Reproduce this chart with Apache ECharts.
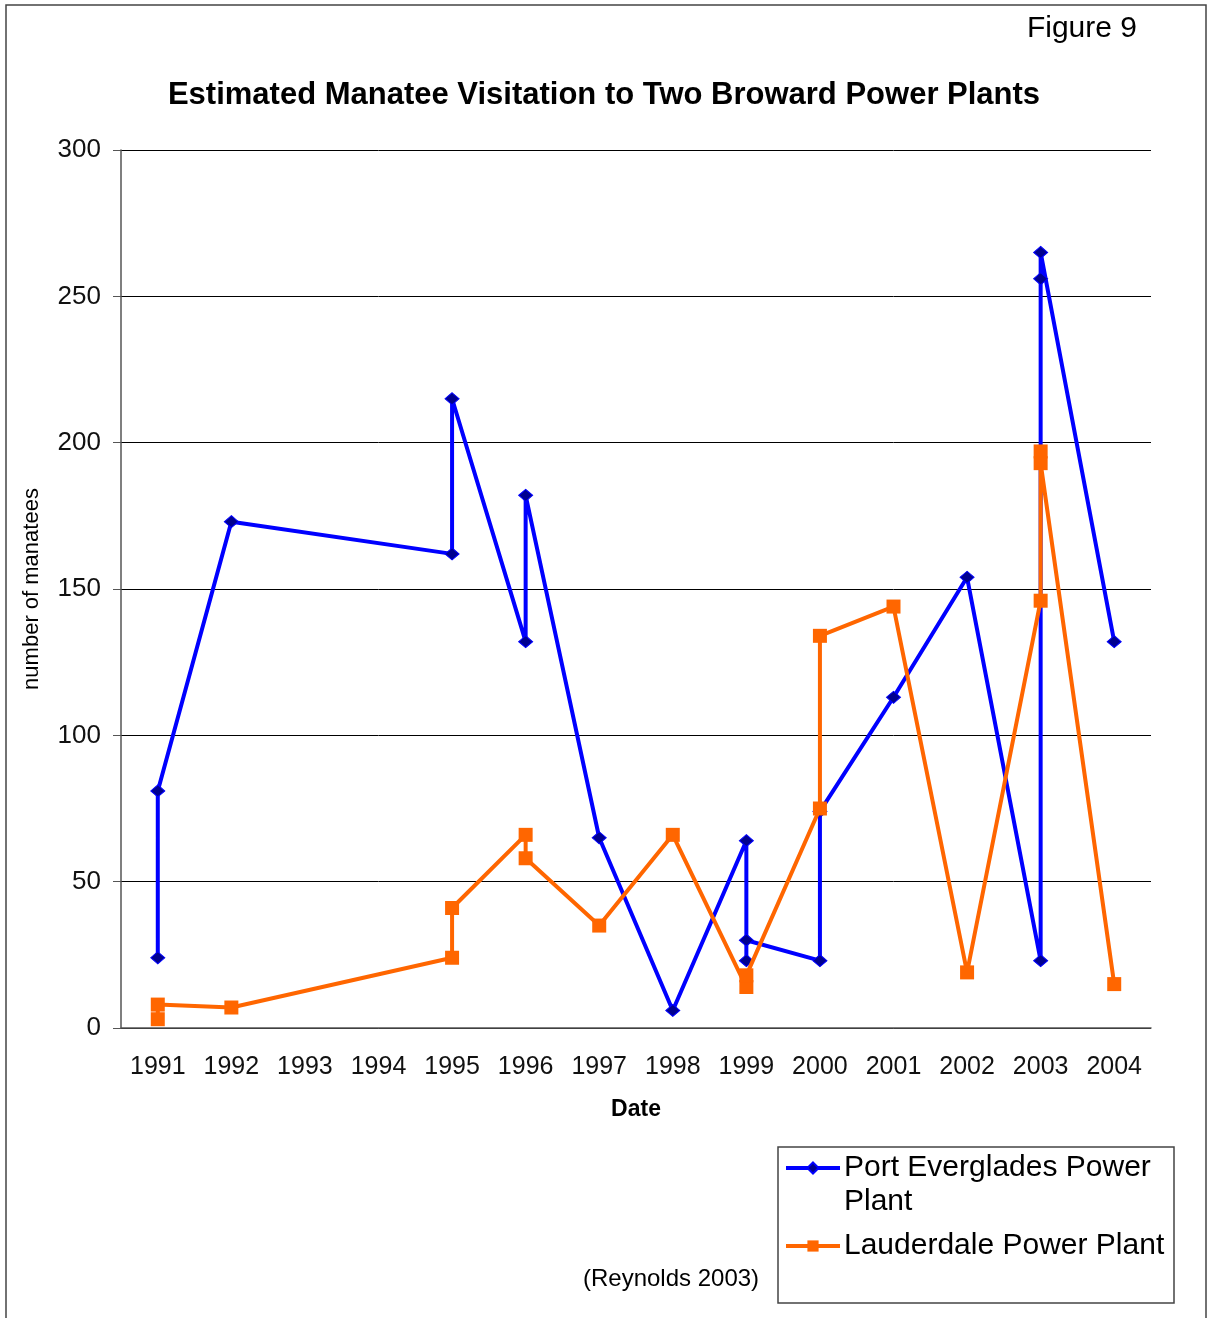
<!DOCTYPE html>
<html>
<head>
<meta charset="utf-8">
<script src="https://cdn.jsdelivr.net/npm/echarts@6/dist/echarts.min.js"></script>
<style>
  html, body { margin: 0; padding: 0; background: #fff; }
  #chart { width: 1208px; height: 1318px; }
</style>
</head>
<body>
<div id="chart"></div>
<script>
// years on the x axis
const years = ['1991', '1992', '1993', '1994', '1995', '1996', '1997',
  '1998', '1999', '2000', '2001', '2002', '2003', '2004'];
const yTicks = [0, 50, 100, 150, 200, 250, 300];

// Port Everglades: several surveys can fall in the same year
const portYears = ['1991', '1991', '1992', '1995', '1995', '1996', '1996', '1997', '1998',
  '1999', '1999', '1999', '2000', '2000', '2001', '2002', '2003', '2003', '2003', '2004'];
const portCounts = [24, 81, 173, 162, 215, 132, 182, 65, 6,
  64, 23, 30, 23, 74, 113, 154, 23, 256, 265, 132];

// Lauderdale
const laudYears = ['1991', '1991', '1992', '1995', '1995', '1996', '1996', '1997', '1998',
  '1999', '1999', '2000', '2000', '2001', '2002', '2003', '2003', '2003', '2004'];
const laudCounts = [3, 8, 7, 24, 41, 66, 58, 35, 66,
  14, 18, 75, 134, 144, 19, 146, 197, 193, 15];

const FONT = '"Liberation Sans", Arial, sans-serif';
const pair = (xs, ys) => xs.map((x, i) => [x, ys[i]]);

const chart = echarts.init(document.getElementById('chart'));
chart.setOption({
  animation: false,
  textStyle: { fontFamily: FONT },
  title: [
    {
      text: 'Estimated Manatee Visitation to Two Broward Power Plants',
      left: 'center', top: 75,
      textStyle: { fontSize: 31, fontWeight: 'bold', color: '#000', fontFamily: FONT }
    },
    {
      text: 'Figure 9',
      right: 66, top: 9,
      textStyle: { fontSize: 30, fontWeight: 'normal', color: '#000', fontFamily: FONT }
    },
    {
      text: '(Reynolds 2003)',
      left: 578, top: 1262,
      textStyle: { fontSize: 24, fontWeight: 'normal', color: '#000', fontFamily: FONT }
    }
  ],
  graphic: [
    { type: 'rect', shape: { x: 6, y: 5, width: 1200, height: 1330 },
      style: { fill: 'none', stroke: '#444', lineWidth: 1.5 }, silent: true },
    { type: 'rect', shape: { x: 778, y: 1147, width: 396, height: 156 },
      style: { fill: '#fff', stroke: '#444', lineWidth: 1.5 }, silent: true, z: 0 }
  ],
  legend: {
    orient: 'vertical',
    left: 784, top: 1117,
    padding: 0,
    itemGap: 10,
    itemWidth: 54, itemHeight: 14,
    z: 5,
    lineStyle: { width: 4 },
    textStyle: { fontSize: 30, lineHeight: 34, color: '#000', fontFamily: FONT, padding: [0, 0, 0, -1] },
    data: ['Port Everglades Power Plant', 'Lauderdale Power Plant'],
    formatter: name => name === 'Port Everglades Power Plant' ? '\nPort Everglades Power\nPlant' : name
  },
  grid: { left: 121, right: 57, top: 150, bottom: 290 },
  xAxis: {
    type: 'category',
    data: years,
    name: 'Date',
    nameLocation: 'middle',
    nameGap: 70,
    nameTextStyle: { fontSize: 23, fontWeight: 'bold', color: '#000', fontFamily: FONT },
    axisLine: { lineStyle: { color: '#555', width: 1.5 } },
    axisTick: { length: 8, lineStyle: { color: '#555' } },
    axisLabel: { fontSize: 25, color: '#111', margin: 27, fontFamily: FONT }
  },
  yAxis: {
    type: 'value',
    min: yTicks[0], max: yTicks[yTicks.length - 1], interval: 50,
    name: 'number of manatees',
    nameLocation: 'middle',
    nameRotate: 90,
    nameGap: 78,
    nameTextStyle: { fontSize: 22, color: '#000', fontFamily: FONT },
    axisLine: { show: true, lineStyle: { color: '#555', width: 1.5 } },
    axisTick: { show: true, length: 8, lineStyle: { color: '#555' } },
    axisLabel: { fontSize: 26, color: '#111', margin: 20, fontFamily: FONT },
    splitLine: { lineStyle: { color: '#000', width: 1 } }
  },
  series: [
    {
      name: 'Port Everglades Power Plant',
      type: 'line',
      data: pair(portYears, portCounts),
      symbol: 'diamond',
      symbolSize: [14, 12],
      lineStyle: { color: '#0000FF', width: 4 },
      itemStyle: { color: '#000090', borderColor: '#0000FF', borderWidth: 1 },
      z: 2
    },
    {
      name: 'Lauderdale Power Plant',
      type: 'line',
      data: pair(laudYears, laudCounts),
      symbol: 'rect',
      symbolSize: 14,
      lineStyle: { color: '#FF6600', width: 4 },
      itemStyle: { color: '#FF6600' },
      z: 3
    }
  ]
});
</script>
</body>
</html>
